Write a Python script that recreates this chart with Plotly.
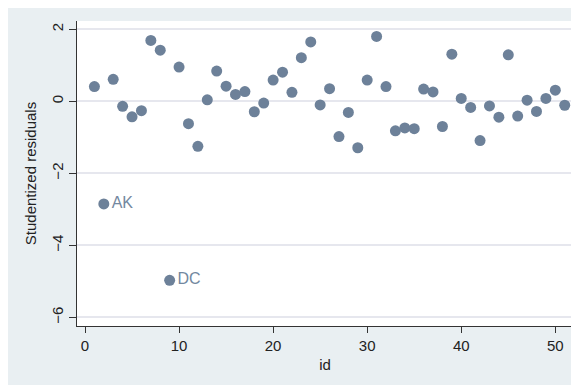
import plotly.graph_objects as go

ids = list(range(1, 52))
residuals = [0.41, -2.85, 0.61, -0.14, -0.43, -0.26, 1.69, 1.42, -4.97, 0.95,
             -0.62, -1.25, 0.04, 0.84, 0.42, 0.19, 0.27, -0.29, -0.05, 0.59,
             0.81, 0.25, 1.21, 1.65, -0.10, 0.35, -0.98, -0.31, -1.29, 0.59,
             1.80, 0.41, -0.82, -0.74, -0.76, 0.34, 0.26, -0.70, 1.31, 0.08,
             -0.17, -1.09, -0.13, -0.44, 1.29, -0.41, 0.03, -0.28, 0.08, 0.31,
             -0.11]
point_labels = {2: "AK", 9: "DC"}
x_ticks = [0, 10, 20, 30, 40, 50]
y_ticks = [2, 0, -2, -4, -6]

marker_color = "#6d8199"
label_color = "#7388a0"
outer_bg = "#e9eff2"
grid_color = "#e6e7ee"
font_family = "Liberation Sans, Arial, sans-serif"

texts = [point_labels.get(i, "") for i in ids]

fig = go.Figure()
fig.add_trace(go.Scatter(
    x=ids, y=residuals, mode="markers+text", text=texts,
    textposition="middle right",
    textfont=dict(family=font_family, size=16, color=label_color),
    marker=dict(size=11, color=marker_color, line=dict(width=0)),
    showlegend=False, hoverinfo="x+y",
))

# page body has an 8px default margin; figure sized to fill the rest
W, H = 571, 377
L, R, T, B = 69, 565, 13, 318

fig.update_layout(
    width=W, height=H,
    margin=dict(l=L, r=W - R, t=T, b=H - B, pad=0),
    paper_bgcolor=outer_bg,
    plot_bgcolor="white",
    font=dict(family=font_family, size=15, color="#222222"),
    xaxis=dict(
        range=[-0.85, 51.88], tickvals=x_ticks, ticks="outside", ticklen=6,
        tickwidth=1, tickcolor="#333333", showgrid=False, zeroline=False,
        showline=True, linecolor="#333333", linewidth=1,
        tickfont=dict(size=15, color="#222222"),
        title=dict(text="id", font=dict(size=15, color="#222222"), standoff=6),
    ),
    yaxis=dict(
        range=[-6.24, 2.23], tickvals=y_ticks, ticks="outside", ticklen=7,
        tickwidth=1, tickcolor="#333333", showgrid=True, gridcolor=grid_color,
        gridwidth=1.5, zeroline=False,
        showline=True, linecolor="#333333", linewidth=1, tickangle=-90,
        tickfont=dict(size=15, color="#222222"),
        title=dict(text="Studentized residuals", font=dict(size=15, color="#222222"), standoff=8),
    ),
)

fig.write_html("out.html")
